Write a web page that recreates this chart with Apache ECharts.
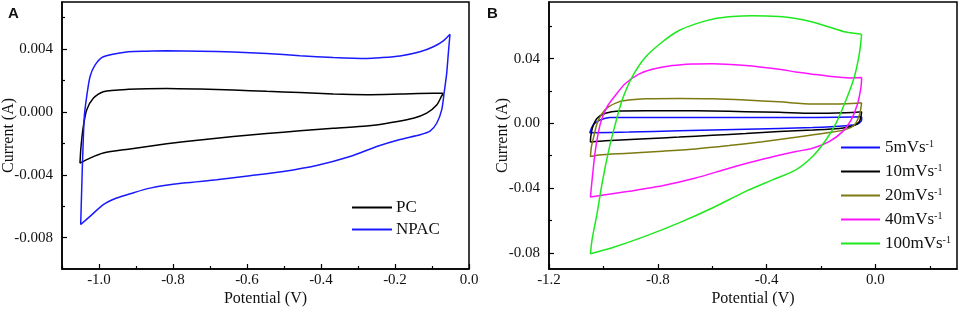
<!DOCTYPE html>
<html><head><meta charset="utf-8">
<script src="https://cdn.jsdelivr.net/npm/echarts@6/dist/echarts.min.js"></script>
<style>html,body{margin:0;padding:0;background:#fff}#c{width:959px;height:311px}</style>
</head><body><div id="c"></div>
<script>
// ---------- Panel A data ----------
const pcX = [-0.0694,-0.0964,-0.1865,-0.2766,-0.3667,-0.4568,-0.5468,-0.6369,-0.727,-0.817,-0.9208,-0.9884,-1.0154,-1.0333,-1.0424,-1.0486,-1.0514,-1.0243,-0.9884,-0.9208,-0.817,-0.727,-0.637,-0.547,-0.4568,-0.3667,-0.2766,-0.2405,-0.1504,-0.1144,-0.0873,-0.0738,-0.0694];
const pcY = [0.00119,0.00119,0.00114,0.0011,0.00114,0.00123,0.00131,0.0014,0.00146,0.0015,0.00144,0.00129,0.00087,0.00013,-0.00093,-0.0022,-0.00326,-0.00294,-0.00262,-0.00237,-0.00203,-0.00178,-0.00157,-0.00138,-0.0012,-0.00104,-0.0009,-0.0008,-0.0004,-0.00008,0.00044,0.00102,0.00119];
const npacX = [-0.0514,-0.0694,-0.0964,-0.1324,-0.1865,-0.2405,-0.2766,-0.3667,-0.4568,-0.5468,-0.6369,-0.727,-0.817,-0.871,-0.9208,-0.9884,-1.0108,-1.0243,-1.0333,-1.0397,-1.0441,-1.0468,-1.0495,-1.0243,-0.9884,-0.9522,-0.9162,-0.862,-0.772,-0.682,-0.592,-0.502,-0.412,-0.3216,-0.2495,-0.1865,-0.1324,-0.1054,-0.0873,-0.0738,-0.0668,-0.0603,-0.0559,-0.0514];
const npacY = [0.00495,0.00453,0.00415,0.00383,0.00356,0.00345,0.00341,0.00347,0.00358,0.00372,0.00381,0.00387,0.00389,0.00387,0.00383,0.00351,0.00298,0.00224,0.00097,-0.0003,-0.00284,-0.00495,-0.00717,-0.00665,-0.0059,-0.00548,-0.00521,-0.00485,-0.00453,-0.00432,-0.00406,-0.00379,-0.00341,-0.00284,-0.0022,-0.00175,-0.00145,-0.00122,-0.00072,0.00013,0.00129,0.00246,0.00373,0.00495];
const aNames = ['PC','NPAC'];
const aXTicks = [-1.0,-0.8,-0.6,-0.4,-0.2,0.0];
const aXMinor = [-1.1,-0.9,-0.7,-0.5,-0.3,-0.1];
const aYTicks = [-0.008,-0.004,0.0,0.004];
const aYMinor = [-0.006,-0.002,0.002,0.006];

// ---------- Panel B data ----------
const r5X = [-0.0505,-0.231,-0.4767,-0.722,-0.943,-0.976,-1.013,-1.0376,-1.05,-0.9065,-0.722,-0.4767,-0.231,-0.108,-0.0652,-0.0505,-0.0505];
const r5Y = [0.0041,0.0037,0.0037,0.0037,0.0037,0.0037,0.002,-0.001,-0.0058,-0.0054,-0.0046,-0.0037,-0.0026,-0.0015,-0.0004,0.0021,0.0041];
const r10X = [-0.0505,-0.108,-0.231,-0.354,-0.4767,-0.5995,-0.722,-0.845,-0.943,-0.9924,-1.023,-1.039,-1.0465,-1.0477,-0.9924,-0.845,-0.722,-0.5995,-0.4767,-0.354,-0.231,-0.133,-0.0836,-0.059,-0.0505];
const r10Y = [0.0072,0.0066,0.0062,0.0068,0.0072,0.0076,0.0078,0.0078,0.0076,0.0062,0.0031,-0.0021,-0.0082,-0.0115,-0.0108,-0.0095,-0.0085,-0.0074,-0.0063,-0.0051,-0.0041,-0.0031,-0.0016,0.001,0.0072];
const r20X = [-0.0505,-0.108,-0.231,-0.354,-0.4767,-0.5995,-0.722,-0.845,-0.9065,-0.943,-0.980,-1.0047,-1.023,-1.0354,-1.044,-1.0477,-1.017,-0.9065,-0.7837,-0.661,-0.538,-0.4153,-0.2924,-0.170,-0.108,-0.0775,-0.059,-0.0505];
const r20Y = [0.0127,0.0121,0.0119,0.0133,0.0144,0.0152,0.0154,0.0152,0.0144,0.0133,0.0103,0.0062,0.0,-0.0082,-0.0144,-0.0205,-0.0195,-0.0185,-0.0172,-0.0158,-0.0137,-0.0113,-0.0086,-0.0057,-0.0037,-0.001,0.0051,0.0127];
const r40X = [-0.0505,-0.096,-0.170,-0.231,-0.2924,-0.354,-0.4767,-0.5995,-0.673,-0.747,-0.8205,-0.8697,-0.919,-0.9556,-0.9863,-1.011,-1.0293,-1.0416,-1.0477,-0.9924,-0.9065,-0.7837,-0.661,-0.538,-0.4153,-0.2924,-0.231,-0.170,-0.1205,-0.089,-0.0652,-0.0529,-0.0505];
const r40Y = [0.0283,0.0281,0.0291,0.0304,0.0318,0.0334,0.0357,0.0369,0.0367,0.0357,0.0334,0.0304,0.0246,0.0174,0.0103,0.0,-0.0164,-0.0349,-0.0455,-0.0441,-0.042,-0.0386,-0.0338,-0.0277,-0.0222,-0.0174,-0.0154,-0.0113,-0.0051,0.0021,0.0123,0.0226,0.0283];
const r100X = [-0.0505,-0.108,-0.170,-0.231,-0.2924,-0.354,-0.452,-0.526,-0.5995,-0.661,-0.722,-0.7837,-0.845,-0.894,-0.931,-0.9556,-0.980,-1.0047,-1.023,-1.0416,-1.0477,-0.968,-0.845,-0.722,-0.5995,-0.4767,-0.378,-0.2924,-0.231,-0.182,-0.145,-0.108,-0.0775,-0.059,-0.0505];
const r100Y = [0.055,0.0564,0.0595,0.0626,0.0648,0.066,0.0665,0.066,0.0644,0.0615,0.0574,0.0503,0.041,0.0287,0.0144,0.0,-0.0164,-0.0369,-0.0554,-0.0718,-0.0806,-0.0769,-0.0697,-0.0615,-0.0523,-0.042,-0.0349,-0.0287,-0.0205,-0.0103,0.0,0.0144,0.0287,0.0431,0.055];
const bNames = ['5mVs','10mVs','20mVs','40mVs','100mVs'];
const bXTicks = [-1.2,-0.8,-0.4,0.0];
const bXMinor = [-1.0,-0.6,-0.2,0.2];
const bYTicks = [-0.08,-0.04,0.0,0.04];
const bYMinor = [-0.06,-0.02,0.02,0.06];

const zip = (xs, ys) => xs.map((x, i) => [x, ys[i]]);
const SERIF = '"Liberation Serif","Times New Roman",serif';
const BLK = '#000';

function mainAxis(dim, gi, min, max, ticks, dec, extra) {
  const a = {
    type: 'value', gridIndex: gi, min: min, max: max,
    position: dim === 'x' ? 'bottom' : 'left',
    nameMoveOverlap: false,
    axisLine: { show: true, onZero: false, lineStyle: { color: BLK, width: 1.5 } },
    axisTick: { show: true, inside: true, length: 5, customValues: ticks, lineStyle: { color: BLK, width: 1.2 } },
    axisLabel: { show: true, customValues: ticks, formatter: v => Number(v).toFixed(dec),
      fontFamily: SERIF, fontSize: 15, color: '#111', margin: dim === 'x' ? 4 : 9 },
    splitLine: { show: false }
  };
  return Object.assign(a, extra || {});
}
function minorAxis(dim, gi, min, max, ticks) {
  return {
    type: 'value', gridIndex: gi, min: min, max: max,
    position: dim === 'x' ? 'bottom' : 'left', offset: 0,
    axisLine: { show: false, onZero: false },
    axisTick: { show: true, inside: true, length: 3, customValues: ticks, lineStyle: { color: BLK, width: 1.2 } },
    axisLabel: { show: false },
    splitLine: { show: false }
  };
}

const chart = echarts.init(document.getElementById('c'), null, { renderer: 'canvas' });
const lineS = (name, data, color, xi, yi) => ({
  type: 'line', name: name, data: data, xAxisIndex: xi, yAxisIndex: yi,
  symbol: 'none', smooth: 0.25, lineStyle: { color: color, width: 1.5 }, itemStyle: { color: color },
  silent: true, animation: false
});
const nameStyle = { fontFamily: SERIF, fontSize: 16, color: '#111' };

chart.setOption({
  animation: false,
  backgroundColor: '#fff',
  grid: [
    { left: 62, right: 490, top: 2, bottom: 42, show: true, borderColor: BLK, borderWidth: 1.5, containLabel: false, outerBoundsMode: 'none' },
    { left: 549, right: 2, top: 2, bottom: 42, show: true, borderColor: BLK, borderWidth: 1.5, containLabel: false, outerBoundsMode: 'none' }
  ],
  xAxis: [
    mainAxis('x', 0, -1.1, 0, aXTicks, 1, { name: 'Potential (V)', nameLocation: 'middle', nameGap: 22, nameTextStyle: nameStyle }),
    minorAxis('x', 0, -1.1, 0, aXMinor),
    mainAxis('x', 1, -1.2, 0.3, bXTicks, 1, { name: 'Potential (V)', nameLocation: 'middle', nameGap: 22, nameTextStyle: nameStyle }),
    minorAxis('x', 1, -1.2, 0.3, bXMinor)
  ],
  yAxis: [
    mainAxis('y', 0, -0.01, 0.007, aYTicks, 3, { name: 'Current (A)', nameLocation: 'middle', nameGap: 45, nameTextStyle: nameStyle }),
    minorAxis('y', 0, -0.01, 0.007, aYMinor),
    mainAxis('y', 1, -0.09, 0.075, bYTicks, 2, { name: 'Current (A)', nameLocation: 'middle', nameGap: 38, nameTextStyle: nameStyle }),
    minorAxis('y', 1, -0.09, 0.075, bYMinor)
  ],
  legend: [
    { data: aNames, orient: 'vertical', left: 347, top: 194, itemWidth: 40, itemHeight: 2, itemGap: 5, icon: 'rect',
      textStyle: { fontFamily: SERIF, fontSize: 17, color: '#111', padding: [0,0,0,-1] }, selectedMode: false },
    { data: bNames, orient: 'vertical', left: 836, top: 134, itemWidth: 39, itemHeight: 2, itemGap: 7, icon: 'rect',
      formatter: n => n + '{sup|-1}', selectedMode: false,
      textStyle: { fontFamily: SERIF, fontSize: 17, color: '#111', padding: [0,0,0,0],
        rich: { sup: { fontFamily: SERIF, fontSize: 10, color: '#111', verticalAlign: 'top', padding: [0,0,6,0] } } } }
  ],
  graphic: [
    { type: 'text', left: 8, top: 6, style: { text: 'A', font: 'bold 15px "Liberation Sans", Arial, sans-serif', fill: '#111' } },
    { type: 'text', left: 487, top: 6, style: { text: 'B', font: 'bold 15px "Liberation Sans", Arial, sans-serif', fill: '#111' } }
  ],
  series: [
    lineS('PC', zip(pcX, pcY), '#000000', 0, 0),
    lineS('NPAC', zip(npacX, npacY), '#1a1aff', 0, 0),
    lineS('5mVs', zip(r5X, r5Y), '#1010ff', 2, 2),
    lineS('10mVs', zip(r10X, r10Y), '#000000', 2, 2),
    lineS('20mVs', zip(r20X, r20Y), '#7d7a12', 2, 2),
    lineS('40mVs', zip(r40X, r40Y), '#ff14ff', 2, 2),
    lineS('100mVs', zip(r100X, r100Y), '#1ee81e', 2, 2)
  ]
});
</script></body></html>
